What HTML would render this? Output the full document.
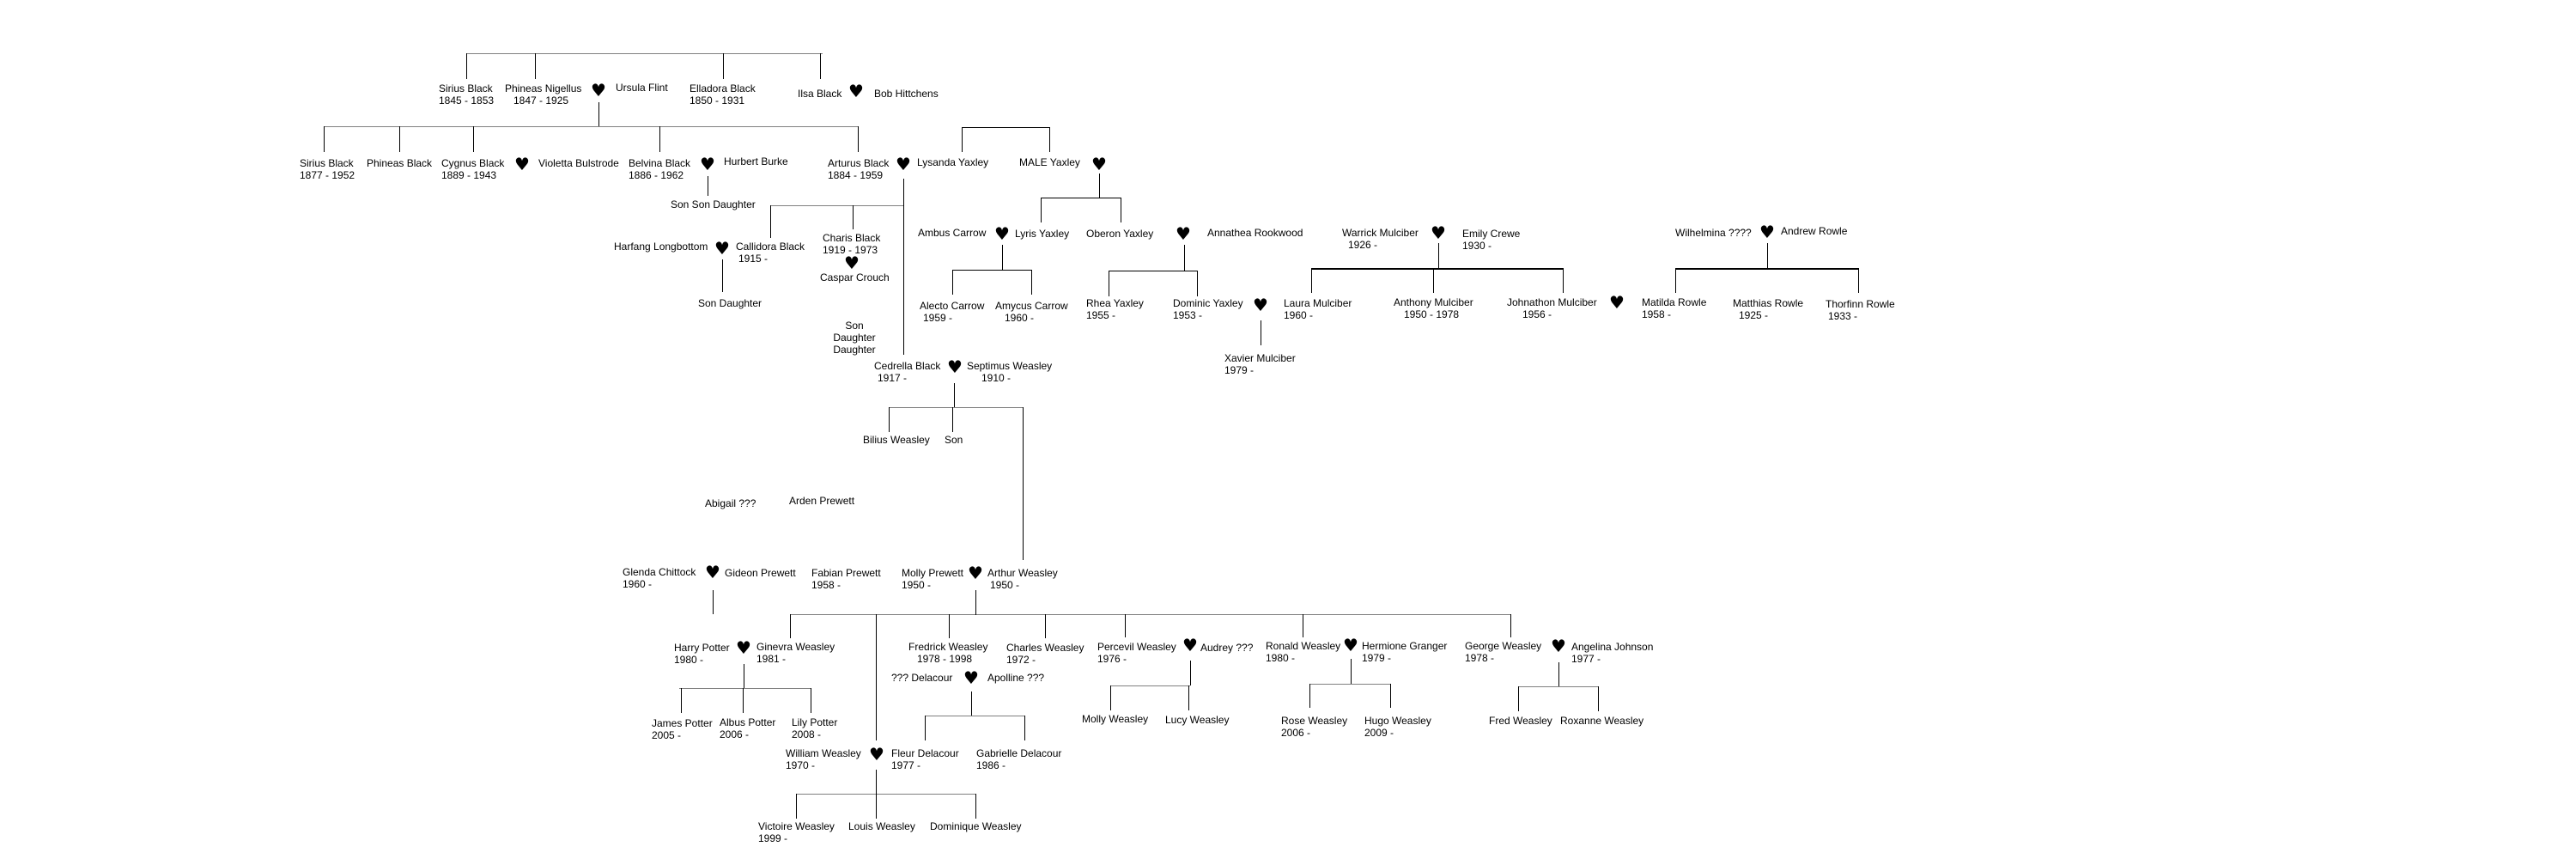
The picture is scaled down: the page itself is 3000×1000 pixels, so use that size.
<!DOCTYPE html>
<html><head><meta charset="utf-8">
<style>
html,body{margin:0;padding:0;background:#fff;}
#c{position:relative;width:3000px;height:1000px;overflow:hidden;font-family:"Liberation Sans",Arial,sans-serif;font-size:12px;line-height:14px;color:#000;}
.t{position:absolute;white-space:pre;}
.h{position:absolute;font-family:"DejaVu Sans",sans-serif;font-size:20px;line-height:20px;width:22px;height:20px;margin-left:-11px;margin-top:-11px;text-align:center;}
svg{position:absolute;left:0;top:0;}
</style></head><body><div id="c">
<svg width="3000" height="1000">
<g stroke="#808080" stroke-width="1" fill="none">
<line x1="543" y1="62.5" x2="958" y2="62.5"/>
<line x1="377" y1="147.5" x2="999" y2="147.5"/>
<line x1="897" y1="239.5" x2="1052" y2="239.5"/>
<line x1="1035" y1="474.5" x2="1191" y2="474.5"/>
<line x1="920" y1="715.5" x2="1759" y2="715.5"/>
<line x1="791" y1="801.5" x2="945" y2="801.5"/>
<line x1="1077" y1="833.5" x2="1193" y2="833.5"/>
<line x1="927" y1="924.5" x2="1136" y2="924.5"/>
<line x1="1293" y1="798.5" x2="1386" y2="798.5"/>
<line x1="1525" y1="796.5" x2="1619" y2="796.5"/>
<line x1="1768" y1="799.5" x2="1861" y2="799.5"/>
</g>
<g stroke="#000" stroke-width="1" fill="none">
<line x1="543.5" y1="62" x2="543.5" y2="92"/>
<line x1="623.5" y1="62" x2="623.5" y2="92"/>
<line x1="842.5" y1="62" x2="842.5" y2="92"/>
<line x1="955.5" y1="62" x2="955.5" y2="92"/>
<line x1="697.5" y1="119" x2="697.5" y2="147"/>
<line x1="377.5" y1="147" x2="377.5" y2="177"/>
<line x1="465.5" y1="147" x2="465.5" y2="177"/>
<line x1="551.5" y1="147" x2="551.5" y2="177"/>
<line x1="768.5" y1="147" x2="768.5" y2="177"/>
<line x1="999.5" y1="147" x2="999.5" y2="177"/>
<line x1="824.5" y1="205" x2="824.5" y2="228"/>
<line x1="897.5" y1="239" x2="897.5" y2="277"/>
<line x1="993.5" y1="239" x2="993.5" y2="267"/>
<line x1="1052.5" y1="208" x2="1052.5" y2="413"/>
<line x1="841.5" y1="302" x2="841.5" y2="340"/>
<line x1="1120" y1="148.5" x2="1222" y2="148.5"/>
<line x1="1120.5" y1="148" x2="1120.5" y2="177"/>
<line x1="1222.5" y1="148" x2="1222.5" y2="177"/>
<line x1="1280.5" y1="202" x2="1280.5" y2="230"/>
<line x1="1212" y1="230.5" x2="1305" y2="230.5"/>
<line x1="1212.5" y1="230" x2="1212.5" y2="259"/>
<line x1="1305.5" y1="230" x2="1305.5" y2="259"/>
<line x1="1167.5" y1="285" x2="1167.5" y2="314"/>
<line x1="1109" y1="314.5" x2="1201" y2="314.5"/>
<line x1="1109.5" y1="314" x2="1109.5" y2="343"/>
<line x1="1201.5" y1="314" x2="1201.5" y2="343"/>
<line x1="1379.5" y1="285" x2="1379.5" y2="315"/>
<line x1="1291" y1="315.5" x2="1394" y2="315.5"/>
<line x1="1291.5" y1="315" x2="1291.5" y2="345"/>
<line x1="1394.5" y1="315" x2="1394.5" y2="345"/>
<line x1="1468.5" y1="373" x2="1468.5" y2="402"/>
<line x1="1675.5" y1="283" x2="1675.5" y2="313"/>
<line x1="1527.5" y1="313" x2="1527.5" y2="341"/>
<line x1="1669.5" y1="313" x2="1669.5" y2="341"/>
<line x1="1820.5" y1="313" x2="1820.5" y2="341"/>
<line x1="2058.5" y1="283" x2="2058.5" y2="313"/>
<line x1="1951.5" y1="313" x2="1951.5" y2="341"/>
<line x1="2164.5" y1="313" x2="2164.5" y2="341"/>
<line x1="1111.5" y1="446" x2="1111.5" y2="474"/>
<line x1="1035.5" y1="474" x2="1035.5" y2="503"/>
<line x1="1109.5" y1="474" x2="1109.5" y2="503"/>
<line x1="1191.5" y1="474" x2="1191.5" y2="652"/>
<line x1="830.5" y1="687" x2="830.5" y2="715"/>
<line x1="1136.5" y1="687" x2="1136.5" y2="716"/>
<line x1="920.5" y1="715" x2="920.5" y2="743"/>
<line x1="1020.5" y1="715" x2="1020.5" y2="862"/>
<line x1="1105.5" y1="715" x2="1105.5" y2="743"/>
<line x1="1217.5" y1="715" x2="1217.5" y2="743"/>
<line x1="1310.5" y1="715" x2="1310.5" y2="742"/>
<line x1="1517.5" y1="715" x2="1517.5" y2="742"/>
<line x1="1759.5" y1="715" x2="1759.5" y2="742"/>
<line x1="866.5" y1="773" x2="866.5" y2="801"/>
<line x1="793.5" y1="801" x2="793.5" y2="830"/>
<line x1="865.5" y1="801" x2="865.5" y2="830"/>
<line x1="944.5" y1="801" x2="944.5" y2="830"/>
<line x1="1131.5" y1="805" x2="1131.5" y2="833"/>
<line x1="1077.5" y1="833" x2="1077.5" y2="862"/>
<line x1="1193.5" y1="833" x2="1193.5" y2="862"/>
<line x1="1020.5" y1="896" x2="1020.5" y2="953"/>
<line x1="927.5" y1="924" x2="927.5" y2="953"/>
<line x1="1136.5" y1="924" x2="1136.5" y2="953"/>
<line x1="1386.5" y1="769" x2="1386.5" y2="798"/>
<line x1="1293.5" y1="798" x2="1293.5" y2="827"/>
<line x1="1384.5" y1="798" x2="1384.5" y2="827"/>
<line x1="1573.5" y1="767" x2="1573.5" y2="796"/>
<line x1="1525.5" y1="796" x2="1525.5" y2="824"/>
<line x1="1619.5" y1="796" x2="1619.5" y2="824"/>
<line x1="1815.5" y1="771" x2="1815.5" y2="799"/>
<line x1="1768.5" y1="799" x2="1768.5" y2="828"/>
<line x1="1861.5" y1="799" x2="1861.5" y2="828"/>
</g>
<g stroke="#000" stroke-width="2">
<line x1="1527" y1="313" x2="1821" y2="313"/>
<line x1="1951" y1="313" x2="2165" y2="313"/>
</g>
</svg>

<div class="t" style="left:511px;top:96px">Sirius Black
1845 - 1853</div>
<div class="t" style="left:588px;top:96px">Phineas Nigellus</div>
<div class="t" style="left:598px;top:110px">1847 - 1925</div>
<div class="h" style="left:697px;top:106px">♥</div>
<div class="t" style="left:717px;top:95px">Ursula Flint</div>
<div class="t" style="left:803px;top:96px">Elladora Black
1850 - 1931</div>
<div class="t" style="left:929px;top:102px">Ilsa Black</div>
<div class="h" style="left:997px;top:107px">♥</div>
<div class="t" style="left:1018px;top:102px">Bob Hittchens</div>

<div class="t" style="left:349px;top:183px">Sirius Black
1877 - 1952</div>
<div class="t" style="left:427px;top:183px">Phineas Black</div>
<div class="t" style="left:514px;top:183px">Cygnus Black
1889 - 1943</div>
<div class="h" style="left:608px;top:192px">♥</div>
<div class="t" style="left:627px;top:183px">Violetta Bulstrode</div>
<div class="t" style="left:732px;top:183px">Belvina Black
1886 - 1962</div>
<div class="h" style="left:824px;top:192px">♥</div>
<div class="t" style="left:843px;top:181px">Hurbert Burke</div>
<div class="t" style="left:964px;top:183px">Arturus Black
1884 - 1959</div>
<div class="h" style="left:1052px;top:192px">♥</div>
<div class="t" style="left:1068px;top:182px">Lysanda Yaxley</div>
<div class="t" style="left:1187px;top:182px">MALE Yaxley</div>
<div class="h" style="left:1280px;top:192px">♥</div>

<div class="t" style="left:781px;top:231px">Son Son Daughter</div>
<div class="t" style="left:715px;top:280px">Harfang Longbottom</div>
<div class="h" style="left:841px;top:290px">♥</div>
<div class="t" style="left:857px;top:280px">Callidora Black</div>
<div class="t" style="left:860px;top:294px">1915 -</div>
<div class="t" style="left:958px;top:270px">Charis Black
1919 - 1973</div>
<div class="h" style="left:992px;top:307px">♥</div>
<div class="t" style="left:955px;top:316px">Caspar Crouch</div>
<div class="t" style="left:813px;top:346px">Son Daughter</div>
<div class="t" style="left:970px;top:372px;text-align:center;width:50px">Son
Daughter
Daughter</div>

<div class="t" style="left:1069px;top:264px">Ambus Carrow</div>
<div class="h" style="left:1167px;top:273px">♥</div>
<div class="t" style="left:1182px;top:265px">Lyris Yaxley</div>
<div class="t" style="left:1265px;top:265px">Oberon Yaxley</div>
<div class="h" style="left:1378px;top:273px">♥</div>
<div class="t" style="left:1406px;top:264px">Annathea Rookwood</div>
<div class="t" style="left:1563px;top:264px">Warrick Mulciber</div>
<div class="t" style="left:1570px;top:278px">1926 -</div>
<div class="h" style="left:1675px;top:272px">♥</div>
<div class="t" style="left:1703px;top:265px">Emily Crewe
1930 -</div>
<div class="t" style="left:1951px;top:264px">Wilhelmina ????</div>
<div class="h" style="left:2058px;top:271px">♥</div>
<div class="t" style="left:2074px;top:262px">Andrew Rowle</div>

<div class="t" style="left:1071px;top:349px">Alecto Carrow</div>
<div class="t" style="left:1075px;top:363px">1959 -</div>
<div class="t" style="left:1159px;top:349px">Amycus Carrow</div>
<div class="t" style="left:1170px;top:363px">1960 -</div>
<div class="t" style="left:1265px;top:346px">Rhea Yaxley
1955 -</div>
<div class="t" style="left:1366px;top:346px">Dominic Yaxley
1953 -</div>
<div class="h" style="left:1468px;top:356px">♥</div>
<div class="t" style="left:1426px;top:410px">Xavier Mulciber
1979 -</div>
<div class="t" style="left:1495px;top:346px">Laura Mulciber
1960 -</div>
<div class="t" style="left:1623px;top:345px">Anthony Mulciber</div>
<div class="t" style="left:1635px;top:359px">1950 - 1978</div>
<div class="t" style="left:1755px;top:345px">Johnathon Mulciber</div>
<div class="t" style="left:1773px;top:359px">1956 -</div>
<div class="h" style="left:1883px;top:353px">♥</div>
<div class="t" style="left:1912px;top:345px">Matilda Rowle
1958 -</div>
<div class="t" style="left:2018px;top:346px">Matthias Rowle</div>
<div class="t" style="left:2025px;top:360px">1925 -</div>
<div class="t" style="left:2126px;top:347px">Thorfinn Rowle</div>
<div class="t" style="left:2129px;top:361px">1933 -</div>

<div class="t" style="left:1018px;top:419px">Cedrella Black</div>
<div class="t" style="left:1022px;top:433px">1917 -</div>
<div class="h" style="left:1112px;top:428px">♥</div>
<div class="t" style="left:1126px;top:419px">Septimus Weasley</div>
<div class="t" style="left:1143px;top:433px">1910 -</div>
<div class="t" style="left:1005px;top:505px">Bilius Weasley</div>
<div class="t" style="left:1100px;top:505px">Son</div>
<div class="t" style="left:821px;top:579px">Abigail ???</div>
<div class="t" style="left:919px;top:576px">Arden Prewett</div>

<div class="t" style="left:725px;top:659px">Glenda Chittock
1960 -</div>
<div class="h" style="left:830px;top:667px">♥</div>
<div class="t" style="left:844px;top:660px">Gideon Prewett</div>
<div class="t" style="left:945px;top:660px">Fabian Prewett
1958 -</div>
<div class="t" style="left:1050px;top:660px">Molly Prewett
1950 -</div>
<div class="h" style="left:1136px;top:668px">♥</div>
<div class="t" style="left:1150px;top:660px">Arthur Weasley</div>
<div class="t" style="left:1153px;top:674px">1950 -</div>

<div class="t" style="left:785px;top:747px">Harry Potter
1980 -</div>
<div class="h" style="left:866px;top:755px">♥</div>
<div class="t" style="left:881px;top:746px">Ginevra Weasley
1981 -</div>
<div class="t" style="left:1058px;top:746px">Fredrick Weasley</div>
<div class="t" style="left:1068px;top:760px">1978 - 1998</div>
<div class="t" style="left:1172px;top:747px">Charles Weasley
1972 -</div>
<div class="t" style="left:1278px;top:746px">Percevil Weasley
1976 -</div>
<div class="h" style="left:1386px;top:752px">♥</div>
<div class="t" style="left:1398px;top:747px">Audrey ???</div>
<div class="t" style="left:1474px;top:745px">Ronald Weasley
1980 -</div>
<div class="h" style="left:1573px;top:752px">♥</div>
<div class="t" style="left:1586px;top:745px">Hermione Granger
1979 -</div>
<div class="t" style="left:1706px;top:745px">George Weasley
1978 -</div>
<div class="h" style="left:1815px;top:753px">♥</div>
<div class="t" style="left:1830px;top:746px">Angelina Johnson
1977 -</div>

<div class="t" style="left:1038px;top:782px">??? Delacour</div>
<div class="h" style="left:1131px;top:790px">♥</div>
<div class="t" style="left:1150px;top:782px">Apolline ???</div>

<div class="t" style="left:759px;top:835px">James Potter
2005 -</div>
<div class="t" style="left:838px;top:834px">Albus Potter
2006 -</div>
<div class="t" style="left:922px;top:834px">Lily Potter
2008 -</div>
<div class="t" style="left:1260px;top:830px">Molly Weasley</div>
<div class="t" style="left:1357px;top:831px">Lucy Weasley</div>
<div class="t" style="left:1492px;top:832px">Rose Weasley
2006 -</div>
<div class="t" style="left:1589px;top:832px">Hugo Weasley
2009 -</div>
<div class="t" style="left:1734px;top:832px">Fred Weasley</div>
<div class="t" style="left:1817px;top:832px">Roxanne Weasley</div>

<div class="t" style="left:915px;top:870px">William Weasley
1970 -</div>
<div class="h" style="left:1021px;top:879px">♥</div>
<div class="t" style="left:1038px;top:870px">Fleur Delacour
1977 -</div>
<div class="t" style="left:1137px;top:870px">Gabrielle Delacour
1986 -</div>
<div class="t" style="left:883px;top:955px">Victoire Weasley
1999 -</div>
<div class="t" style="left:988px;top:955px">Louis Weasley</div>
<div class="t" style="left:1083px;top:955px">Dominique Weasley</div>
</div></body></html>
